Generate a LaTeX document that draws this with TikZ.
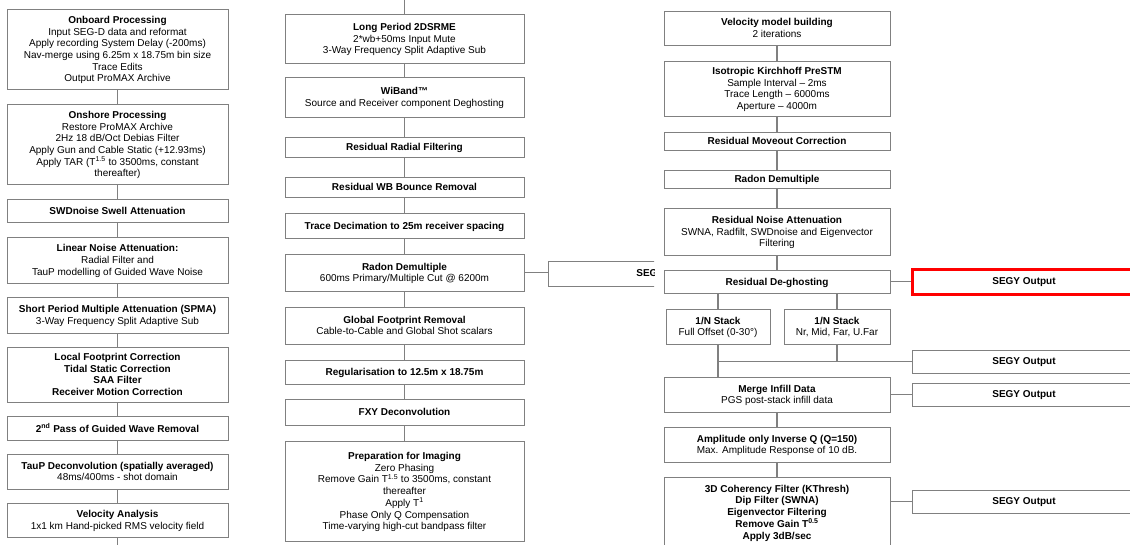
\documentclass[tikz,border=0pt]{standalone}
\usepackage{fontspec}
\setmainfont{Liberation Sans}
\usepackage{tikz}
\definecolor{FlowLine}{HTML}{808080}
\definecolor{SegyRed}{HTML}{FF0000}

\begin{document}
\begin{tikzpicture}[
  x=1pt,y=-1pt,
  proccard/.style={draw=FlowLine,line width=1pt,fill=white,align=center,inner sep=2pt,text depth=0pt,font=\fontsize{10}{11.7}\selectfont},
  leftcard/.style={proccard,minimum width=221pt},
  midcard/.style={proccard,minimum width=239pt},
  rightcard/.style={proccard,minimum width=226pt},
  outcard/.style={proccard,minimum width=224pt,minimum height=23pt,font=\fontsize{10}{11.7}\selectfont\bfseries},
  flow/.style={draw=FlowLine,line width=1.3pt}
]
\clip (0,0) rectangle (1130,544);
\fill[white] (0,0) rectangle (1130,544);

\node[leftcard,minimum height=80pt] (onboard) at (117.5,49) {\textbf{Onboard Processing}\\Input SEG-D data and reformat\\Apply recording System Delay (-200ms)\\Nav-merge using 6.25m x 18.75m bin size\\Trace Edits\\Output ProMAX Archive};
\node[leftcard,minimum height=80pt] (onshore) at (117.5,144) {\textbf{Onshore Processing}\\Restore ProMAX Archive\\2Hz 18 dB/Oct Debias Filter\\Apply Gun and Cable Static (+12.93ms)\\Apply TAR (T\textsuperscript{1.5} to 3500ms, constant\\thereafter)};
\node[leftcard,minimum height=23pt] (swdnoise) at (117.5,210.5) {\textbf{SWDnoise Swell Attenuation}};
\node[leftcard,minimum height=46pt] (linnoise) at (117.5,260) {\textbf{Linear Noise Attenuation:}\\Radial Filter and\\TauP modelling of Guided Wave Noise};
\node[leftcard,minimum height=36pt] (spma) at (117.5,315) {\textbf{Short Period Multiple Attenuation (SPMA)}\\3-Way Frequency Split Adaptive Sub};
\node[leftcard,minimum height=55pt] (localfp) at (117.5,374.5) {\textbf{Local Footprint Correction}\\\textbf{Tidal Static Correction}\\\textbf{SAA Filter}\\\textbf{Receiver Motion Correction}};
\node[leftcard,minimum height=24pt] (secpass) at (117.5,428) {\textbf{2\textsuperscript{nd} Pass of Guided Wave Removal}};
\node[leftcard,minimum height=35pt] (taupdecon) at (117.5,471.5) {\textbf{TauP Deconvolution (spatially averaged)}\\48ms/400ms - shot domain};
\node[leftcard,minimum height=34pt] (velan) at (117.5,520) {\textbf{Velocity Analysis}\\1x1 km Hand-picked RMS velocity field};
\coordinate (leftend) at (117.5,550);

\coordinate (midtop) at (404.5,-5);
\node[midcard,minimum height=49pt] (longsrme) at (404.5,38.5) {\textbf{Long Period 2DSRME}\\2*wb+50ms Input Mute\\3-Way Frequency Split Adaptive Sub};
\node[midcard,minimum height=40pt] (wiband) at (404.5,97) {\textbf{WiBand™}\\Source and Receiver component Deghosting};
\node[midcard,minimum height=20pt] (resradial) at (404.5,147) {\textbf{Residual Radial Filtering}};
\node[midcard,minimum height=20pt] (reswb) at (404.5,187) {\textbf{Residual WB Bounce Removal}};
\node[midcard,minimum height=25pt] (tracedec) at (404.5,225.5) {\textbf{Trace Decimation to 25m receiver spacing}};
\node[midcard,minimum height=37pt] (radonmid) at (404.5,272.5) {\textbf{Radon Demultiple}\\600ms Primary/Multiple Cut @ 6200m};
\node[midcard,minimum height=37pt] (globalfp) at (404.5,325.5) {\textbf{Global Footprint Removal}\\Cable-to-Cable and Global Shot scalars};
\node[midcard,minimum height=24pt] (regular) at (404.5,372) {\textbf{Regularisation to 12.5m x 18.75m}};
\node[midcard,minimum height=26pt] (fxydecon) at (404.5,412) {\textbf{FXY Deconvolution}};
\node[midcard,minimum height=100pt] (prepimg) at (404.5,491) {\textbf{Preparation for Imaging}\\Zero Phasing\\Remove Gain T\textsuperscript{1.5} to 3500ms, constant\\thereafter\\Apply T\textsuperscript{1}\\Phase Only Q Compensation\\Time-varying high-cut bandpass filter};

\begin{scope}
  \clip (540,250) rectangle (654,300);
  \node[outcard,minimum width=240pt,minimum height=25pt] (segymid) at (668,273.5) {SEGY Output};
\end{scope}

\node[rightcard,minimum height=34pt] (velmodel) at (777,28) {\textbf{Velocity model building}\\2 iterations};
\node[rightcard,minimum height=55pt] (kirchhoff) at (777,88.5) {\textbf{Isotropic Kirchhoff PreSTM}\\Sample Interval – 2ms\\Trace Length – 6000ms\\Aperture – 4000m};
\node[rightcard,minimum height=18pt] (resmoveout) at (777,141) {\textbf{Residual Moveout Correction}};
\node[rightcard,minimum height=18pt] (radonright) at (777,179) {\textbf{Radon Demultiple}};
\node[rightcard,minimum height=47pt] (resnoise) at (777,231.5) {\textbf{Residual Noise Attenuation}\\SWNA, Radfilt, SWDnoise and Eigenvector\\Filtering};
\node[rightcard,minimum height=23pt] (deghost) at (777,281.5) {\textbf{Residual De-ghosting}};
\node[proccard,minimum width=104pt,minimum height=35pt] (stackfull) at (718,326.5) {\textbf{1/N Stack}\\Full Offset (0-30°)};
\node[proccard,minimum width=106pt,minimum height=35pt] (stackang) at (837,326.5) {\textbf{1/N Stack}\\Nr, Mid, Far, U.Far};
\node[rightcard,minimum height=35pt] (mergeinfill) at (777,394.5) {\textbf{Merge Infill Data}\\PGS post-stack infill data};
\node[rightcard,minimum height=35pt] (ampinvq) at (777,444.5) {\textbf{Amplitude only Inverse Q (Q=150)}\\Max. Amplitude Response of 10 dB.};
\node[rightcard,minimum height=70pt] (coherency) at (777,512) {\textbf{3D Coherency Filter (KThresh)}\\\textbf{Dip Filter (SWNA)}\\\textbf{Eigenvector Filtering}\\\textbf{Remove Gain T\textsuperscript{0.5}}\\\textbf{Apply 3dB/sec}};

\node[outcard,draw=SegyRed,line width=3pt,minimum height=25pt] (segyred) at (1024,281.5) {SEGY Output};
\node[outcard] (segystack) at (1024,361.5) {SEGY Output};
\node[outcard] (segymerge) at (1024,394.5) {SEGY Output};
\node[outcard] (segycoher) at (1024,501.5) {SEGY Output};

\draw[flow] (onboard) -- (onshore);
\draw[flow] (onshore) -- (swdnoise);
\draw[flow] (swdnoise) -- (linnoise);
\draw[flow] (linnoise) -- (spma);
\draw[flow] (spma) -- (localfp);
\draw[flow] (localfp) -- (secpass);
\draw[flow] (secpass) -- (taupdecon);
\draw[flow] (taupdecon) -- (velan);
\draw[flow] (velan) -- (leftend);

\draw[flow] (midtop) -- (longsrme);
\draw[flow] (longsrme) -- (wiband);
\draw[flow] (wiband) -- (resradial);
\draw[flow] (resradial) -- (reswb);
\draw[flow] (reswb) -- (tracedec);
\draw[flow] (tracedec) -- (radonmid);
\draw[flow] (radonmid) -- (globalfp);
\draw[flow] (globalfp) -- (regular);
\draw[flow] (regular) -- (fxydecon);
\draw[flow] (fxydecon) -- (prepimg);
\draw[flow] (radonmid.east) -- (radonmid.east -| segymid.west);

\draw[flow] (velmodel) -- (kirchhoff);
\draw[flow] (kirchhoff) -- (resmoveout);
\draw[flow] (resmoveout) -- (radonright);
\draw[flow] (radonright) -- (resnoise);
\draw[flow] (resnoise) -- (deghost);
\draw[flow] (deghost) -- (segyred);
\draw[flow] (deghost.south -| stackfull.north) -- (stackfull.north);
\draw[flow] (deghost.south -| stackang.north) -- (stackang.north);
\draw[flow] (stackfull.south) -- (stackfull.south |- mergeinfill.north);
\draw[flow] (stackang.south) -- (stackang.south |- segystack.west);
\draw[flow] (stackfull.south |- segystack.west) -- (segystack.west);
\draw[flow] (mergeinfill) -- (segymerge);
\draw[flow] (mergeinfill) -- (ampinvq);
\draw[flow] (ampinvq) -- (coherency);
\draw[flow] (coherency.east |- segycoher.west) -- (segycoher.west);
\end{tikzpicture}
\end{document}
